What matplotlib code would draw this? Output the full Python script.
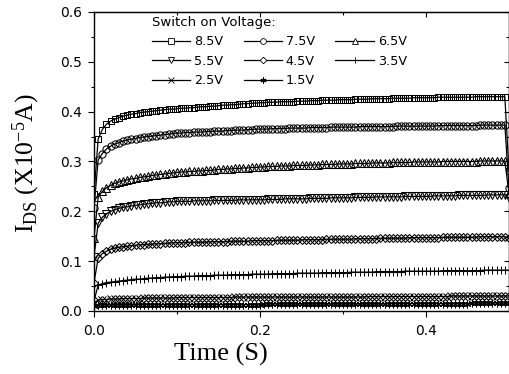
import matplotlib
matplotlib.use('Agg')
import matplotlib.pyplot as plt
from matplotlib.lines import Line2D
from matplotlib.ticker import MultipleLocator
import numpy as np

plt.rcParams['font.family'] = 'DejaVu Sans'
plt.rcParams['mathtext.fontset'] = 'custom'
plt.rcParams['mathtext.rm'] = 'Liberation Serif'
plt.rcParams['mathtext.it'] = 'Liberation Serif:italic'

# sampling: one point every 5 ms, 0 .. 0.5 s
time_s = np.arange(101) * 0.005

labels = ['8.5V', '7.5V', '6.5V', '5.5V', '4.5V', '3.5V', '2.5V', '1.5V']

i_85 = [0.234, 0.345, 0.364, 0.375, 0.381, 0.385, 0.388, 0.391, 0.393, 0.395,
        0.396, 0.398, 0.399, 0.400, 0.401, 0.402, 0.403, 0.404, 0.405, 0.405,
        0.406, 0.407, 0.407, 0.408, 0.408, 0.409, 0.410, 0.410, 0.411, 0.411,
        0.412, 0.413, 0.413, 0.414, 0.414, 0.415, 0.416, 0.416, 0.417, 0.417,
        0.418, 0.418, 0.419, 0.419, 0.419, 0.420, 0.420, 0.420, 0.420, 0.421,
        0.421, 0.421, 0.422, 0.422, 0.422, 0.423, 0.423, 0.423, 0.423, 0.424,
        0.424, 0.424, 0.424, 0.425, 0.425, 0.425, 0.425, 0.426, 0.426, 0.426,
        0.426, 0.426, 0.427, 0.427, 0.427, 0.427, 0.427, 0.428, 0.428, 0.428,
        0.428, 0.428, 0.428, 0.429, 0.429, 0.429, 0.429, 0.429, 0.429, 0.429,
        0.429, 0.429, 0.430, 0.430, 0.430, 0.430, 0.430, 0.430, 0.430, 0.430,
        0.280]
i_75 = [0.207, 0.303, 0.316, 0.325, 0.331, 0.335, 0.338, 0.341, 0.343, 0.345,
        0.346, 0.348, 0.349, 0.350, 0.351, 0.352, 0.353, 0.354, 0.355, 0.356,
        0.357, 0.357, 0.358, 0.358, 0.359, 0.359, 0.359, 0.360, 0.360, 0.361,
        0.361, 0.361, 0.362, 0.362, 0.363, 0.363, 0.363, 0.364, 0.364, 0.365,
        0.365, 0.365, 0.365, 0.366, 0.366, 0.366, 0.366, 0.367, 0.367, 0.367,
        0.367, 0.367, 0.368, 0.368, 0.368, 0.368, 0.368, 0.369, 0.369, 0.369,
        0.369, 0.369, 0.369, 0.369, 0.370, 0.370, 0.370, 0.370, 0.370, 0.370,
        0.370, 0.370, 0.370, 0.371, 0.371, 0.371, 0.371, 0.371, 0.371, 0.371,
        0.371, 0.371, 0.371, 0.372, 0.372, 0.372, 0.372, 0.372, 0.372, 0.372,
        0.372, 0.372, 0.372, 0.373, 0.373, 0.373, 0.373, 0.373, 0.373, 0.373,
        0.246]
i_65 = [0.147, 0.228, 0.240, 0.247, 0.252, 0.256, 0.259, 0.261, 0.263, 0.265,
        0.266, 0.268, 0.269, 0.270, 0.272, 0.273, 0.274, 0.275, 0.276, 0.277,
        0.278, 0.279, 0.279, 0.280, 0.280, 0.281, 0.281, 0.282, 0.282, 0.283,
        0.284, 0.284, 0.285, 0.285, 0.286, 0.286, 0.287, 0.287, 0.288, 0.288,
        0.289, 0.289, 0.290, 0.290, 0.290, 0.291, 0.291, 0.291, 0.292, 0.292,
        0.292, 0.292, 0.293, 0.293, 0.293, 0.294, 0.294, 0.294, 0.294, 0.295,
        0.295, 0.295, 0.295, 0.296, 0.296, 0.296, 0.296, 0.297, 0.297, 0.297,
        0.297, 0.297, 0.298, 0.298, 0.298, 0.298, 0.298, 0.299, 0.299, 0.299,
        0.299, 0.299, 0.299, 0.299, 0.300, 0.300, 0.300, 0.300, 0.300, 0.300,
        0.300, 0.300, 0.300, 0.301, 0.301, 0.301, 0.301, 0.301, 0.301, 0.301,
        0.236]
i_55 = [0.109, 0.176, 0.188, 0.195, 0.200, 0.203, 0.206, 0.208, 0.209, 0.211,
        0.212, 0.213, 0.214, 0.215, 0.216, 0.217, 0.217, 0.218, 0.219, 0.219,
        0.220, 0.220, 0.220, 0.220, 0.221, 0.221, 0.221, 0.221, 0.221, 0.222,
        0.222, 0.222, 0.222, 0.222, 0.222, 0.223, 0.223, 0.223, 0.223, 0.223,
        0.223, 0.223, 0.224, 0.224, 0.224, 0.224, 0.225, 0.225, 0.225, 0.225,
        0.225, 0.225, 0.226, 0.226, 0.226, 0.226, 0.226, 0.227, 0.227, 0.227,
        0.227, 0.227, 0.227, 0.228, 0.228, 0.228, 0.228, 0.228, 0.229, 0.229,
        0.229, 0.229, 0.229, 0.229, 0.229, 0.230, 0.230, 0.230, 0.230, 0.230,
        0.230, 0.230, 0.231, 0.231, 0.231, 0.231, 0.231, 0.231, 0.232, 0.232,
        0.232, 0.232, 0.232, 0.232, 0.232, 0.233, 0.233, 0.233, 0.233, 0.233,
        0.226]
i_45 = [0.057, 0.106, 0.115, 0.120, 0.124, 0.126, 0.128, 0.129, 0.130, 0.131,
        0.132, 0.133, 0.133, 0.134, 0.134, 0.135, 0.135, 0.136, 0.136, 0.137,
        0.137, 0.137, 0.137, 0.138, 0.138, 0.138, 0.138, 0.138, 0.139, 0.139,
        0.139, 0.139, 0.139, 0.140, 0.140, 0.140, 0.140, 0.140, 0.141, 0.141,
        0.141, 0.141, 0.141, 0.141, 0.142, 0.142, 0.142, 0.142, 0.142, 0.142,
        0.143, 0.143, 0.143, 0.143, 0.143, 0.143, 0.144, 0.144, 0.144, 0.144,
        0.144, 0.144, 0.144, 0.145, 0.145, 0.145, 0.145, 0.145, 0.145, 0.146,
        0.146, 0.146, 0.146, 0.146, 0.146, 0.146, 0.147, 0.147, 0.147, 0.147,
        0.147, 0.147, 0.147, 0.147, 0.148, 0.148, 0.148, 0.148, 0.148, 0.148,
        0.148, 0.148, 0.148, 0.149, 0.149, 0.149, 0.149, 0.149, 0.149, 0.149,
        0.146]
i_35 = [0.020, 0.052, 0.055, 0.057, 0.058, 0.059, 0.060, 0.061, 0.062, 0.063,
        0.064, 0.064, 0.065, 0.066, 0.066, 0.067, 0.067, 0.068, 0.068, 0.069,
        0.069, 0.069, 0.070, 0.070, 0.070, 0.071, 0.071, 0.071, 0.071, 0.072,
        0.072, 0.072, 0.072, 0.073, 0.073, 0.073, 0.073, 0.073, 0.074, 0.074,
        0.074, 0.074, 0.074, 0.075, 0.075, 0.075, 0.075, 0.075, 0.075, 0.076,
        0.076, 0.076, 0.076, 0.076, 0.076, 0.077, 0.077, 0.077, 0.077, 0.077,
        0.077, 0.077, 0.078, 0.078, 0.078, 0.078, 0.078, 0.078, 0.079, 0.079,
        0.079, 0.079, 0.079, 0.079, 0.079, 0.080, 0.080, 0.080, 0.080, 0.080,
        0.080, 0.080, 0.080, 0.080, 0.081, 0.081, 0.081, 0.081, 0.081, 0.081,
        0.081, 0.081, 0.081, 0.081, 0.082, 0.082, 0.082, 0.082, 0.082, 0.082,
        0.082]
i_25 = [0.016, 0.022, 0.023, 0.023, 0.024, 0.024, 0.024, 0.025, 0.025, 0.025,
        0.025, 0.025, 0.026, 0.026, 0.026, 0.026, 0.026, 0.026, 0.026, 0.026,
        0.027, 0.027, 0.027, 0.027, 0.027, 0.027, 0.027, 0.027, 0.027, 0.027,
        0.027, 0.027, 0.027, 0.027, 0.028, 0.028, 0.028, 0.028, 0.028, 0.028,
        0.028, 0.028, 0.028, 0.028, 0.028, 0.028, 0.028, 0.028, 0.028, 0.028,
        0.028, 0.028, 0.028, 0.028, 0.028, 0.028, 0.028, 0.028, 0.028, 0.028,
        0.028, 0.028, 0.028, 0.028, 0.028, 0.028, 0.029, 0.029, 0.029, 0.029,
        0.029, 0.029, 0.029, 0.029, 0.029, 0.029, 0.029, 0.029, 0.029, 0.029,
        0.029, 0.029, 0.029, 0.029, 0.029, 0.029, 0.030, 0.030, 0.030, 0.030,
        0.030, 0.030, 0.030, 0.030, 0.030, 0.030, 0.030, 0.030, 0.030, 0.030,
        0.030]
i_15 = [0.010, 0.012, 0.012, 0.012, 0.012, 0.012, 0.012, 0.012, 0.012, 0.012,
        0.012, 0.013, 0.013, 0.013, 0.013, 0.013, 0.013, 0.013, 0.013, 0.013,
        0.013, 0.013, 0.013, 0.013, 0.013, 0.013, 0.013, 0.013, 0.013, 0.013,
        0.013, 0.013, 0.013, 0.013, 0.013, 0.013, 0.013, 0.013, 0.013, 0.013,
        0.013, 0.014, 0.014, 0.014, 0.014, 0.014, 0.014, 0.014, 0.014, 0.014,
        0.014, 0.014, 0.014, 0.014, 0.014, 0.014, 0.014, 0.014, 0.014, 0.014,
        0.014, 0.014, 0.014, 0.014, 0.014, 0.014, 0.014, 0.014, 0.014, 0.014,
        0.014, 0.015, 0.015, 0.015, 0.015, 0.015, 0.015, 0.015, 0.015, 0.015,
        0.015, 0.015, 0.015, 0.015, 0.015, 0.015, 0.015, 0.015, 0.015, 0.015,
        0.015, 0.016, 0.016, 0.016, 0.016, 0.016, 0.016, 0.016, 0.016, 0.016,
        0.016]

currents = [i_85, i_75, i_65, i_55, i_45, i_35, i_25, i_15]
markers = ['s', 'o', '^', 'v', 'D', '+', 'x', (6, 2, 0)]
msizes = [5.0, 5.2, 5.2, 5.2, 4.2, 6.0, 5.2, 5.5]

fig = plt.figure(figsize=(5.1, 3.74), dpi=100)
ax = fig.add_axes([94 / 510, 1 - 311 / 374, 415 / 510, 299 / 374])

handles = []
for lab, cur, mk, ms in zip(labels, currents, markers, msizes):
    ax.plot(time_s, cur, color='black', lw=0.9, marker=mk, ms=ms,
            mfc='none', mec='black', mew=0.75)
    handles.append(Line2D([], [], color='black', lw=0.9, marker=mk,
                          ms=ms * 0.8, mfc='white', mec='black', mew=0.6,
                          label=lab))

ax.set_xlim(0, 0.5)
ax.set_ylim(0, 0.6)
ax.xaxis.set_major_locator(MultipleLocator(0.2))
ax.xaxis.set_minor_locator(MultipleLocator(0.1))
ax.yaxis.set_major_locator(MultipleLocator(0.1))
ax.yaxis.set_minor_locator(MultipleLocator(0.05))
ax.xaxis.set_major_formatter(lambda v, p: f'{v:.1f}')
ax.yaxis.set_major_formatter(lambda v, p: f'{v:.1f}')
ax.tick_params(which='major', length=4.5, width=0.8, labelsize=10)
ax.tick_params(which='minor', length=2.5, width=0.8)
ax.tick_params(axis='x', pad=5)
ax.tick_params(axis='y', pad=4)
for sp in ax.spines.values():
    sp.set_linewidth(1.0)

# inward ticks on top and right, like Origin
top = ax.secondary_xaxis('top')
top.xaxis.set_major_locator(MultipleLocator(0.2))
top.xaxis.set_minor_locator(MultipleLocator(0.1))
top.tick_params(which='both', direction='in', labeltop=False, width=0.8)
top.tick_params(which='major', length=3.5)
top.tick_params(which='minor', length=2)
right = ax.secondary_yaxis('right')
right.yaxis.set_major_locator(MultipleLocator(0.1))
right.yaxis.set_minor_locator(MultipleLocator(0.05))
right.tick_params(which='both', direction='in', labelright=False, width=0.8)
right.tick_params(which='major', length=3.5)
right.tick_params(which='minor', length=2)

ax.set_xlabel('Time (S)', family='Liberation Serif', fontsize=19)
ax.xaxis.set_label_coords(0.306, -0.108)
ax.set_ylabel(r'I$_{\mathrm{DS}}$ (X10$^{\mathrm{-5}}$A)', family='Liberation Serif', fontsize=18.5)
ax.yaxis.set_label_coords(-0.125, 0.495)

# legend laid out row by row: reorder for column filling
order = [0, 3, 6, 1, 4, 7, 2, 5]
leg = ax.legend([handles[i] for i in order], [labels[i] for i in order],
                ncol=3, title='Switch on Voltage:', title_fontsize=9.5,
                fontsize=9.2, frameon=False, loc='upper left',
                bbox_to_anchor=(152 / 510, 1 - 16 / 374),
                bbox_transform=fig.transFigure, borderpad=0, borderaxespad=0,
                handlelength=3.0, handletextpad=0.3, columnspacing=1.6,
                labelspacing=0.5, alignment='left')

fig.savefig('out.png', dpi=100)
